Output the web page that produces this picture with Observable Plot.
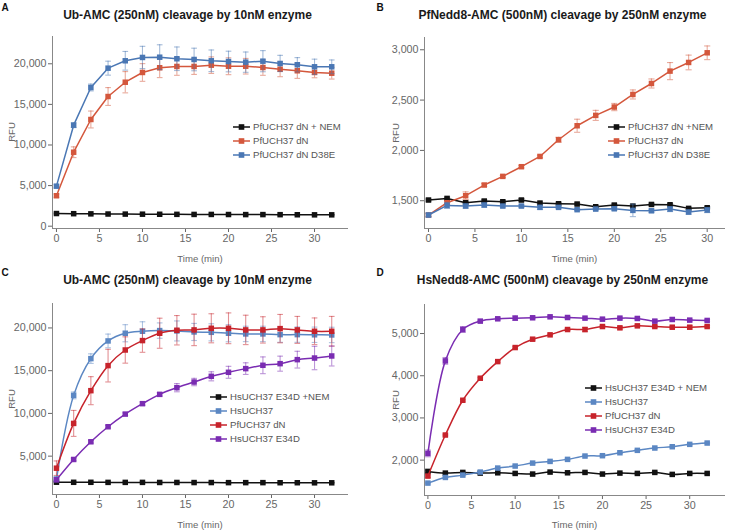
<!DOCTYPE html>
<html><head><meta charset="utf-8">
<script src="https://cdn.jsdelivr.net/npm/d3@7"></script>
<script src="https://cdn.jsdelivr.net/npm/@observablehq/plot@0.6"></script>
<style>
body{margin:0;background:#fff;font-family:"Liberation Sans",Arial,sans-serif;}
#root{position:relative;width:750px;height:531px;overflow:hidden;background:#fff;}
.abs{position:absolute;white-space:nowrap;}
.title{font-weight:bold;font-size:12px;color:#1a1a1a;transform:translate(-50%,-50%);}
.letter{font-weight:bold;font-size:10px;color:#111;transform:translate(-50%,-50%);}
.xlab{font-size:9.6px;color:#666;transform:translate(-50%,-50%);}
.ylab{font-size:9.6px;color:#666;transform:translate(-50%,-50%) rotate(-90deg);}
.leg{font-size:9.6px;color:#555;height:12px;line-height:12px;display:flex;align-items:center;}
.leg svg{display:block;margin-right:3px;}
.plot{position:absolute;}
</style>
</head><body><div id="root"></div>
<script>
// ---------- data ----------
const time = [0,2,4,6,8,10,12,14,16,18,20,22,24,26,28,30,32];
const timeB = [0,2,4,6,8,10,12,14,16,18,20,22,24,26,28,30];

// Panel A: Ub-AMC, PfUCH37
const aNem      = [1560,1540,1520,1500,1490,1480,1470,1460,1450,1450,1440,1430,1430,1420,1410,1400,1400];
const aNemErr   = [60,40,40,40,40,40,40,40,40,40,40,40,40,40,40,40,40];
const aDn       = [3750,9110,13140,15970,17730,18930,19510,19670,19670,19830,19700,19700,19540,19330,19140,18930,18840];
const aDnErr    = [200,660,1040,1100,1310,1090,1210,1090,980,1020,1040,960,960,920,940,650,720];
const aD38E     = [4930,12440,17080,19460,20370,20780,20810,20620,20530,20370,20280,20200,20320,20040,19880,19630,19630];
const aD38EErr  = [200,300,420,860,1150,1370,1530,1450,1390,1330,1270,1250,1300,1000,880,940,840];

// Panel B: PfNedd8-AMC, PfUCH37
const bNem      = [1507,1523,1480,1497,1490,1507,1477,1470,1467,1440,1457,1447,1463,1460,1424,1430];
const bNemErr   = [10,12,10,12,10,15,10,10,10,10,10,10,12,12,10,10];
const bDn       = [1358,1480,1550,1656,1742,1838,1940,2106,2245,2348,2431,2556,2665,2788,2874,2970];
const bDnErr    = [15,15,38,15,10,12,12,25,65,50,36,45,45,85,73,68];
const bD38E     = [1358,1453,1447,1457,1447,1447,1434,1434,1411,1417,1420,1404,1400,1417,1387,1407];
const bD38EErr  = [20,30,20,20,10,12,20,12,10,10,15,62,15,25,20,25];

// Panel C: Ub-AMC, HsUCH37
const cNem      = [1950,1940,1940,1930,1930,1930,1920,1920,1910,1910,1900,1900,1900,1890,1890,1880,1880];
const cNemErr   = [60,40,40,40,40,40,40,40,40,40,40,40,40,40,40,40,40];
const cHs       = [2300,12110,16410,18480,19380,19610,19690,19650,19530,19490,19380,19300,19300,19220,19220,19200,19180];
const cHsErr    = [300,400,560,800,1000,1110,900,1170,1000,1000,1000,900,900,900,900,900,900];
const cDn       = [3590,8830,12660,15590,17420,18520,19380,19730,19770,19960,19960,19770,19770,19920,19770,19610,19610];
const cDnErr    = [850,1520,1640,1910,1540,1370,1760,1720,1840,1700,1800,1720,1540,1660,1580,1560,1740];
const cE34D     = [2230,4610,6680,8440,9920,11140,12230,13010,13670,14340,14810,15240,15630,15820,16290,16480,16720];
const cE34DErr  = [200,150,150,150,150,200,200,480,430,530,700,680,980,880,980,1370,1170];

// Panel D: HsNedd8-AMC, HsUCH37
const dNem      = [1733,1693,1709,1693,1700,1685,1670,1717,1700,1709,1670,1693,1685,1709,1662,1685,1685];
const dNemErr   = [30,10,10,10,10,10,10,10,10,10,10,10,10,10,10,10,10];
const dHs       = [1456,1590,1645,1717,1812,1860,1930,1970,2018,2097,2105,2175,2232,2287,2318,2374,2405];
const dHsErr    = [15,15,15,15,15,15,15,15,15,15,15,15,15,15,15,15,15];
const dDn       = [1622,2595,3419,3941,4335,4668,4866,4969,5095,5095,5166,5135,5182,5166,5150,5150,5166];
const dDnErr    = [30,20,20,20,20,20,20,20,20,50,20,30,20,20,20,40,20];
const dE34D     = [2160,4352,5095,5294,5349,5365,5373,5396,5380,5365,5341,5365,5357,5294,5333,5318,5310];
const dE34DErr  = [80,80,70,20,30,50,20,20,20,20,20,20,30,30,40,20,20];

// tick values
const xTicks = [0,5,10,15,20,25,30];
const yTicksA = [0,5000,10000,15000,20000];
const yTicksB = [1500,2000,2500,3000];
const yTicksC = [5000,10000,15000,20000];
const yTicksD = [2000,3000,4000,5000];

// colours
const cBlack = "#111111", cCoral = "#d4573c", cBlueA = "#4a77b4";
const cBlueH = "#5b87c3", cRed = "#c7232b", cPurple = "#7a2cb2";

// ---------- panels ----------
const panels = [
  {left:0, top:0, w:375, h:265, m:[36,27,37,52], xd:[-0.46,33.95], yd:[-283,23360], yt:yTicksA, curve:"linear",
   title:"Ub-AMC (250nM) cleavage by 10nM enzyme", letter:"A",
   times:time,
   series:[["PfUCH37 dN + NEM",aNem,aNemErr,cBlack],["PfUCH37 dN",aDn,aDnErr,cCoral],["PfUCH37 dN D38E",aD38E,aD38EErr,cBlueA]],
   leg:{x:233,y:127}},
  {left:375, top:0, w:375, h:265, m:[37,25,37,49], xd:[-0.43,31.97], yd:[1224,3122], yt:yTicksB, curve:"linear",
   title:"PfNedd8-AMC (500nM) cleavage by 250nM enzyme", letter:"B",
   times:timeB,
   series:[["PfUCH37 dN +NEM",bNem,bNemErr,cBlack],["PfUCH37 dN",bDn,bDnErr,cCoral],["PfUCH37 dN D38E",bD38E,bD38EErr,cBlueA]],
   leg:{x:233,y:127}},
  {left:0, top:265, w:375, h:266, m:[38,27,37,52], xd:[-0.46,33.95], yd:[512,22860], yt:yTicksC, curve:"catmull-rom",
   title:"Ub-AMC (250nM) cleavage by 10nM enzyme", letter:"C",
   times:time,
   series:[["HsUCH37 E34D +NEM",cNem,cNemErr,cBlack],["HsUCH37",cHs,cHsErr,cBlueH],["PfUCH37 dN",cDn,cDnErr,cRed],["HsUCH37 E34D",cE34D,cE34DErr,cPurple]],
   leg:{x:210,y:132}},
  {left:375, top:265, w:375, h:266, m:[39,25,36,49], xd:[-0.39,34.1], yd:[1162,5688], yt:yTicksD, curve:"catmull-rom",
   title:"HsNedd8-AMC (500nM) cleavage by 250nM enzyme", letter:"D",
   times:time,
   series:[["HsUCH37 E34D + NEM",dNem,dNemErr,cBlack],["HsUCH37",dHs,dHsErr,cBlueH],["PfUCH37 dN",dDn,dDnErr,cRed],["HsUCH37 E34D",dE34D,dE34DErr,cPurple]],
   leg:{x:210,y:123}}
];

const root = document.getElementById("root");
function addDiv(cls, text, x, y){
  const d = document.createElement("div");
  d.className = "abs " + cls; d.textContent = text;
  d.style.left = x + "px"; d.style.top = y + "px";
  root.appendChild(d); return d;
}

const cap = 0.33;
for (const p of panels) {
  const [mt, mr, mb, ml] = p.m;
  const marks = [
    Plot.ruleX([p.xd[0]], {stroke:"#888", strokeWidth:1}),
    Plot.ruleY([p.yd[0]], {stroke:"#888", strokeWidth:1})
  ];
  for (const [name, vals, errs, col] of p.series) {
    const rows = p.times.map((t,i)=>({t, v: vals[i], e: errs[i]}));
    marks.push(Plot.ruleX(rows, {x:"t", y1:d=>d.v-d.e, y2:d=>d.v+d.e, stroke:col, strokeOpacity:0.5, strokeWidth:1.1}));
    marks.push(Plot.link(rows, {x1:d=>d.t-cap, x2:d=>d.t+cap, y1:d=>d.v+d.e, y2:d=>d.v+d.e, stroke:col, strokeOpacity:0.5, strokeWidth:1.1}));
    marks.push(Plot.link(rows, {x1:d=>d.t-cap, x2:d=>d.t+cap, y1:d=>d.v-d.e, y2:d=>d.v-d.e, stroke:col, strokeOpacity:0.5, strokeWidth:1.1}));
    marks.push(Plot.line(rows, {x:"t", y:"v", stroke:col, strokeWidth:1.5, curve:p.curve}));
    marks.push(Plot.dot(rows, {x:"t", y:"v", symbol:"square", r:3.1, fill:col}));
  }
  const svg = Plot.plot({
    width:p.w, height:p.h, marginTop:mt, marginRight:mr, marginBottom:mb, marginLeft:ml,
    x:{domain:p.xd, ticks:xTicks, tickSize:4, tickPadding:2, label:null},
    y:{domain:p.yd, ticks:p.yt, tickSize:4, tickPadding:2, label:null},
    style:{fontFamily:'"Liberation Sans",Arial,sans-serif', fontSize:"10.7px", color:"#666", background:"transparent", overflow:"visible"},
    marks
  });
  svg.classList.add("plot");
  svg.style.left = p.left + "px"; svg.style.top = p.top + "px";
  root.appendChild(svg);

  // titles and labels
  const cx = p.left + ml + (p.w - ml - mr)/2;
  const cy = p.top + mt + (p.h - mt - mb)/2;
  addDiv("title", p.title, p.left + 187.5, p.top + 14.5);
  addDiv("letter", p.letter, p.left + 5, p.top + 7);
  addDiv("xlab", "Time (min)", cx, p.top + p.h - 7.5);
  addDiv("ylab", "RFU", p.left + (ml <= 49 ? 20 : 11), cy);

  // legend
  p.series.forEach(([name, , , col], i) => {
    const row = document.createElement("div");
    row.className = "abs leg";
    row.style.left = (p.left + p.leg.x) + "px";
    row.style.top = (p.top + p.leg.y + i*14 - 6) + "px";
    row.innerHTML = `<svg width="17" height="10"><line x1="0" x2="17" y1="5" y2="5" stroke="${col}" stroke-width="1.5"/><rect x="5.7" y="2.2" width="5.6" height="5.6" fill="${col}"/></svg><span>${name}</span>`;
    root.appendChild(row);
  });
}
</script>
</body></html>
